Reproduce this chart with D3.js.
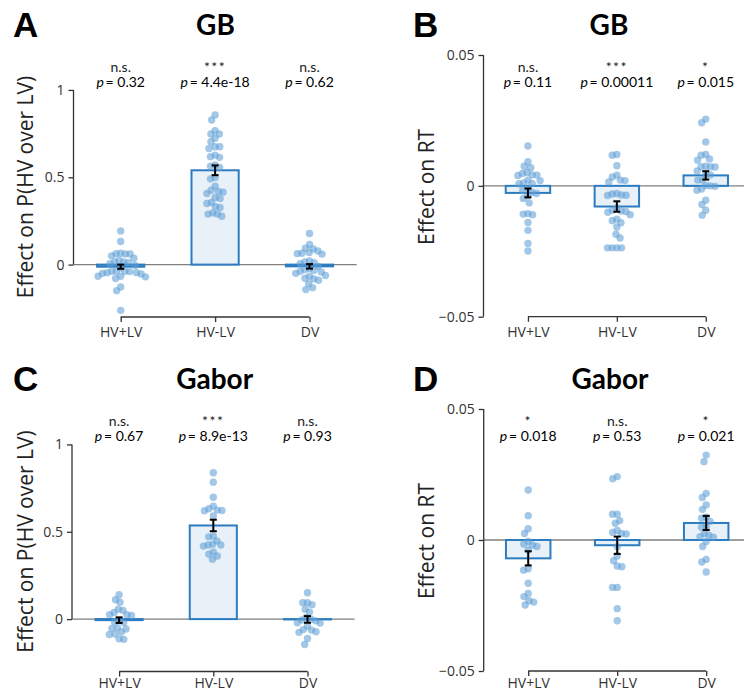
<!DOCTYPE html>
<html>
<head>
<meta charset="utf-8">
<script src="https://cdn.jsdelivr.net/npm/d3@7"></script>
<style>
  html, body { margin: 0; padding: 0; background: #fff; }
  svg { display: block; }
</style>
</head>
<body>
<svg id="fig" width="744" height="692"></svg>
<script>
// ---- data -------------------------------------------------------------
const categories = ["HV+LV", "HV-LV", "DV"];

// GB task: effect on P(HV over LV), one value per participant
const gbChoiceSum = [0.193, 0.132, 0.065, 0.063, 0.061, 0.061, 0.05, 0.036, 0.025, 0.015, 0.015, 0.011, 0.005,
  -0.005, -0.02, -0.038, -0.038, -0.038, -0.04, -0.046, -0.046, -0.05, -0.054, -0.067, -0.067, -0.07, -0.08,
  -0.128, -0.149, -0.262];
const gbChoiceDiff = [0.857, 0.828, 0.767, 0.748, 0.748, 0.723, 0.704, 0.675, 0.675, 0.665, 0.627, 0.618, 0.614,
  0.570, 0.564, 0.556, 0.499, 0.491, 0.449, 0.426, 0.419, 0.415, 0.407, 0.384, 0.379, 0.356, 0.350, 0.331, 0.327,
  0.296, 0.290, 0.289, 0.277];
const gbChoiceDV = [0.178, 0.115, 0.094, 0.09, 0.078, 0.069, 0.065, 0.063, 0.06, 0.021, 0.015, 0.011, 0.005,
  -0.01, -0.023, -0.028, -0.033, -0.038, -0.042, -0.05, -0.062, -0.067, -0.078, -0.082, -0.09, -0.109, -0.132, -0.143];
const gbChoiceMeans = [-0.012, 0.54, -0.01];
const gbChoiceSems = [0.012, 0.028, 0.013];
const gbChoiceStars = ["n.s.", "***", "n.s."];
const gbChoiceP = ["0.32", "4.4e-18", "0.62"];

// GB task: effect on RT
const gbRtSum = [0.0152, 0.0092, 0.0075, 0.0069, 0.0051, 0.0047, 0.0042, 0.0041, 0.0040, 0.0022, 0.0020, 0.0011,
  0.0009, 0.0008, -0.0009, -0.0017, -0.0025, -0.0029, -0.0038, -0.0048, -0.0065, -0.0106, -0.0108, -0.011,
  -0.014, -0.017, -0.022, -0.0249];
const gbRtDiff = [0.0117, 0.012, 0.0077, 0.0041, 0.0034, 0.0022, 0.0020, 0.0015, -0.0029, -0.0031, -0.0035,
  -0.0036, -0.0037, -0.0085, -0.0093, -0.0096, -0.0098, -0.0101, -0.011, -0.0127, -0.0133, -0.0141, -0.0157,
  -0.0185, -0.0199, -0.0237, -0.0237, -0.0237, -0.0237];
const gbRtDV = [0.0255, 0.0241, 0.0168, 0.012, 0.0117, 0.0103, 0.0098, 0.0075, 0.0073, 0.0073, 0.0072, 0.0057,
  0.0042, 0.0042, 0.0022, 0.0022, 0.0001, 0.0, -0.0002, -0.0012, -0.0017, -0.0055, -0.0071, -0.0093, -0.0112];
const gbRtMeans = [-0.0027, -0.0079, 0.004];
const gbRtSems = [0.0017, 0.002, 0.0016];
const gbRtStars = ["n.s.", "***", "*"];
const gbRtP = ["0.11", "0.00011", "0.015"];

// Gabor task: effect on P(HV over LV)
const gaborChoiceSum = [0.139, 0.111, 0.097, 0.057, 0.05, 0.038, 0.025, 0.025, 0.021, -0.01, -0.017, -0.02,
  -0.05, -0.053, -0.057, -0.074, -0.086, -0.088, -0.113, -0.116];
const gaborChoiceDiff = [0.838, 0.784, 0.698, 0.647, 0.632, 0.624, 0.622, 0.62, 0.59, 0.475, 0.471, 0.448,
  0.429, 0.424, 0.424, 0.418, 0.384, 0.372, 0.361, 0.342];
const gaborChoiceDV = [0.151, 0.094, 0.094, 0.082, 0.057, 0.04, 0.01, 0.0, -0.005, -0.01, -0.021, -0.023,
  -0.04, -0.063, -0.06, -0.072, -0.076, -0.111, -0.145];
const gaborChoiceMeans = [-0.006, 0.536, -0.002];
const gaborChoiceSems = [0.016, 0.033, 0.019];
const gaborChoiceStars = ["n.s.", "***", "n.s."];
const gaborChoiceP = ["0.67", "8.9e-13", "0.93"];

// Gabor task: effect on RT
const gaborRtSum = [0.0191, 0.0093, 0.0043, 0.0025, -0.0006, -0.0015, -0.0019, -0.0025, -0.0038, -0.011,
  -0.0115, -0.0165, -0.0204, -0.0216, -0.0232, -0.0237, -0.0248];
const gaborRtDiff = [0.0242, 0.0234, 0.0098, 0.0098, 0.0074, 0.0064, 0.0036, 0.0029, 0.0025, 0.0023, -0.0026,
  -0.0061, -0.0079, -0.0099, -0.0102, -0.0181, -0.0181, -0.0262, -0.0308];
const gaborRtDV = [0.0324, 0.0299, 0.0178, 0.0162, 0.0134, 0.0117, 0.0087, 0.0083, 0.0071, 0.0051, 0.0049,
  0.0025, 0.0018, 0.0013, 0.0011, -0.0006, -0.0025, -0.0074, -0.0084, -0.0122];
const gaborRtMeans = [-0.007, -0.002, 0.0065];
const gaborRtSems = [0.0027, 0.0033, 0.0027];
const gaborRtStars = ["*", "n.s.", "*"];
const gaborRtP = ["0.018", "0.53", "0.021"];

const choiceTicks = [0, 0.5, 1];
const rtTicks = [-0.05, 0, 0.05];

// ---- layout ---------------------------------------------------------------
const panels = [
  { letter: "A", title: "GB", ylabel: "Effect on P(HV over LV)",
    points: [gbChoiceSum, gbChoiceDiff, gbChoiceDV], means: gbChoiceMeans, sems: gbChoiceSems,
    stars: gbChoiceStars, pvals: gbChoiceP, ticks: choiceTicks, ydom: [-0.3, 1.2],
    xr: [73.5, 356.7], yr: [317, 55], letterX: 13, titleX: 215.5, top: 0, labelX: 33, pad: 5 },
  { letter: "B", title: "GB", ylabel: "Effect on RT",
    points: [gbRtSum, gbRtDiff, gbRtDV], means: gbRtMeans, sems: gbRtSems,
    stars: gbRtStars, pvals: gbRtP, ticks: rtTicks, ydom: [-0.05, 0.05],
    xr: [483.5, 750.2], yr: [316.7, 55], letterX: 413, titleX: 609, top: 0, labelX: 433.5, pad: 5 },
  { letter: "C", title: "Gabor", ylabel: "Effect on P(HV over LV)",
    points: [gaborChoiceSum, gaborChoiceDiff, gaborChoiceDV], means: gaborChoiceMeans, sems: gaborChoiceSems,
    stars: gaborChoiceStars, pvals: gaborChoiceP, ticks: choiceTicks, ydom: [-0.3, 1.2],
    xr: [72, 354.6], yr: [671.5, 409.5], letterX: 13, titleX: 214.7, top: 354, labelX: 33, pad: 2 },
  { letter: "D", title: "Gabor", ylabel: "Effect on RT",
    points: [gaborRtSum, gaborRtDiff, gaborRtDV], means: gaborRtMeans, sems: gaborRtSems,
    stars: gaborRtStars, pvals: gaborRtP, ticks: rtTicks, ydom: [-0.05, 0.05],
    xr: [483.7, 750.7], yr: [671, 409], letterX: 413, titleX: 610, top: 354, labelX: 433.5, pad: 2 }
];

const AXIS = "#333333";
const BAR_EDGE = "#2b7cc0";
const BAR_FILL = "#e8f0f8";
const DOT = "rgb(95,158,214)";
const TICK_FONT = "'Open Sans', 'DejaVu Sans', sans-serif";
const ANNOT_FONT = "Lato, 'Open Sans', sans-serif";

// swarm layout: each point goes as close to the centre as it can without
// colliding; the vertical axis is compressed so columns stack tightly
function swarm(ys, d, k) {
  const pts = ys.map(y => ({ y, s: y * k })).sort((a, b) => a.s - b.s);
  const placed = [];
  for (const p of pts) {
    const nb = placed.filter(q => Math.abs(q.s - p.s) < d);
    const cands = [0];
    for (const q of nb) {
      const dx = Math.sqrt(d * d - (q.s - p.s) ** 2);
      cands.push(q.x + dx, q.x - dx);
    }
    cands.sort((a, b) => Math.abs(a) - Math.abs(b) || a - b);
    p.x = cands.find(c => nb.every(q => (q.x - c) ** 2 + (q.s - p.s) ** 2 >= d * d - 1e-6));
    placed.push(p);
  }
  return placed;
}

const svg = d3.select("#fig");

panels.forEach(P => {
  const g = svg.append("g");
  const x = d3.scaleLinear().domain([-0.5, 2.5]).range(P.xr);
  const y = d3.scaleLinear().domain(P.ydom).range(P.yr);
  const step = x(1) - x(0);
  const barW = step * 0.5;
  const x0 = P.xr[0];

  // panel letter and title
  g.append("text").attr("x", P.letterX).attr("y", 37 + P.top)
    .attr("font-family", "'Liberation Sans', Arial, sans-serif").attr("font-weight", "bold")
    .attr("font-size", 35).attr("fill", "#000").text(P.letter);
  g.append("text").attr("x", P.titleX).attr("y", 35 + P.top).attr("text-anchor", "middle")
    .attr("font-family", ANNOT_FONT).attr("font-weight", "bold")
    .attr("font-size", 28).attr("fill", "#000").text(P.title);

  // zero reference line
  g.append("line").attr("x1", x0).attr("x2", P.xr[1]).attr("y1", y(0)).attr("y2", y(0))
    .attr("stroke", "#7f7f7f").attr("stroke-width", 1.4);

  // bars
  g.selectAll("rect.bar").data(P.means).join("rect").attr("class", "bar")
    .attr("x", (d, i) => x(i) - barW / 2).attr("width", barW)
    .attr("y", d => Math.min(y(d), y(0))).attr("height", d => Math.abs(y(d) - y(0)))
    .attr("fill", BAR_FILL).attr("stroke", BAR_EDGE).attr("stroke-width", 2);

  // participant dots
  P.points.forEach((vals, i) => {
    const pts = swarm(vals.map(v => y(v)), 4.7, 0.63);
    g.append("g").selectAll("circle").data(pts).join("circle")
      .attr("cx", d => x(i) + d.x).attr("cy", d => d.y).attr("r", 3.7)
      .attr("fill", DOT).attr("fill-opacity", 0.58);
  });

  // error bars (mean ± s.e.m.)
  const eb = g.append("g").attr("stroke", "#000").attr("stroke-width", 2);
  P.means.forEach((m, i) => {
    const lo = y(m - P.sems[i]), hi = y(m + P.sems[i]), cx = x(i);
    eb.append("line").attr("x1", cx).attr("x2", cx).attr("y1", lo).attr("y2", hi);
    eb.append("line").attr("x1", cx - 3.5).attr("x2", cx + 3.5).attr("y1", lo).attr("y2", lo);
    eb.append("line").attr("x1", cx - 3.5).attr("x2", cx + 3.5).attr("y1", hi).attr("y2", hi);
  });

  // y axis, spine trimmed to the outer ticks
  const yAxis = g.append("g").attr("transform", `translate(${x0},0)`)
    .call(d3.axisLeft(y).tickValues(P.ticks).tickSize(5).tickPadding(4).tickFormat(d3.format("")));
  yAxis.select(".domain").remove();
  yAxis.append("line").attr("x1", 0).attr("x2", 0)
    .attr("y1", y(P.ticks[0])).attr("y2", y(P.ticks[P.ticks.length - 1]))
    .attr("stroke", AXIS).attr("stroke-width", 1.3);
  yAxis.selectAll(".tick line").attr("stroke", AXIS).attr("stroke-width", 1.3);
  yAxis.selectAll(".tick text").attr("fill", "#333").attr("font-size", 14).attr("font-family", TICK_FONT);

  // x axis at the bottom of the y range, spine trimmed to first/last category
  const xb = y(P.ydom[0]);
  const xAxis = g.append("g").attr("transform", `translate(0,${xb})`)
    .call(d3.axisBottom(x).tickValues([0, 1, 2]).tickSize(5).tickPadding(P.pad).tickFormat(i => categories[i]));
  xAxis.select(".domain").remove();
  xAxis.append("line").attr("x1", x(0)).attr("x2", x(2)).attr("y1", 0).attr("y2", 0)
    .attr("stroke", AXIS).attr("stroke-width", 1.3);
  xAxis.selectAll(".tick line").attr("stroke", AXIS).attr("stroke-width", 1.3);
  xAxis.selectAll(".tick text").attr("fill", "#333").attr("font-size", 14).attr("font-family", TICK_FONT);

  // y label
  g.append("text").attr("transform", `translate(${P.labelX},${(P.yr[0] + P.yr[1]) / 2 + 1}) rotate(-90)`)
    .attr("text-anchor", "middle").attr("font-family", TICK_FONT).attr("font-size", 21)
    .attr("fill", "#222").text(P.ylabel);

  // significance annotations
  P.stars.forEach((s, i) => {
    const isStar = s !== "n.s.";
    g.append("text").attr("x", x(i)).attr("y", 71.5 + P.top).attr("text-anchor", "middle")
      .attr("font-family", ANNOT_FONT).attr("font-size", 14)
      .attr("letter-spacing", isStar ? 1.5 : 0).attr("fill", "#222").text(s);
    const t = g.append("text").attr("x", x(i)).attr("y", 87.3 + P.top).attr("text-anchor", "middle")
      .attr("font-family", ANNOT_FONT).attr("font-size", 14).attr("fill", "#000");
    t.append("tspan").attr("font-style", "italic").text("p");
    t.append("tspan").text("\u2009= " + P.pvals[i]);
  });
});
</script>
</body>
</html>
